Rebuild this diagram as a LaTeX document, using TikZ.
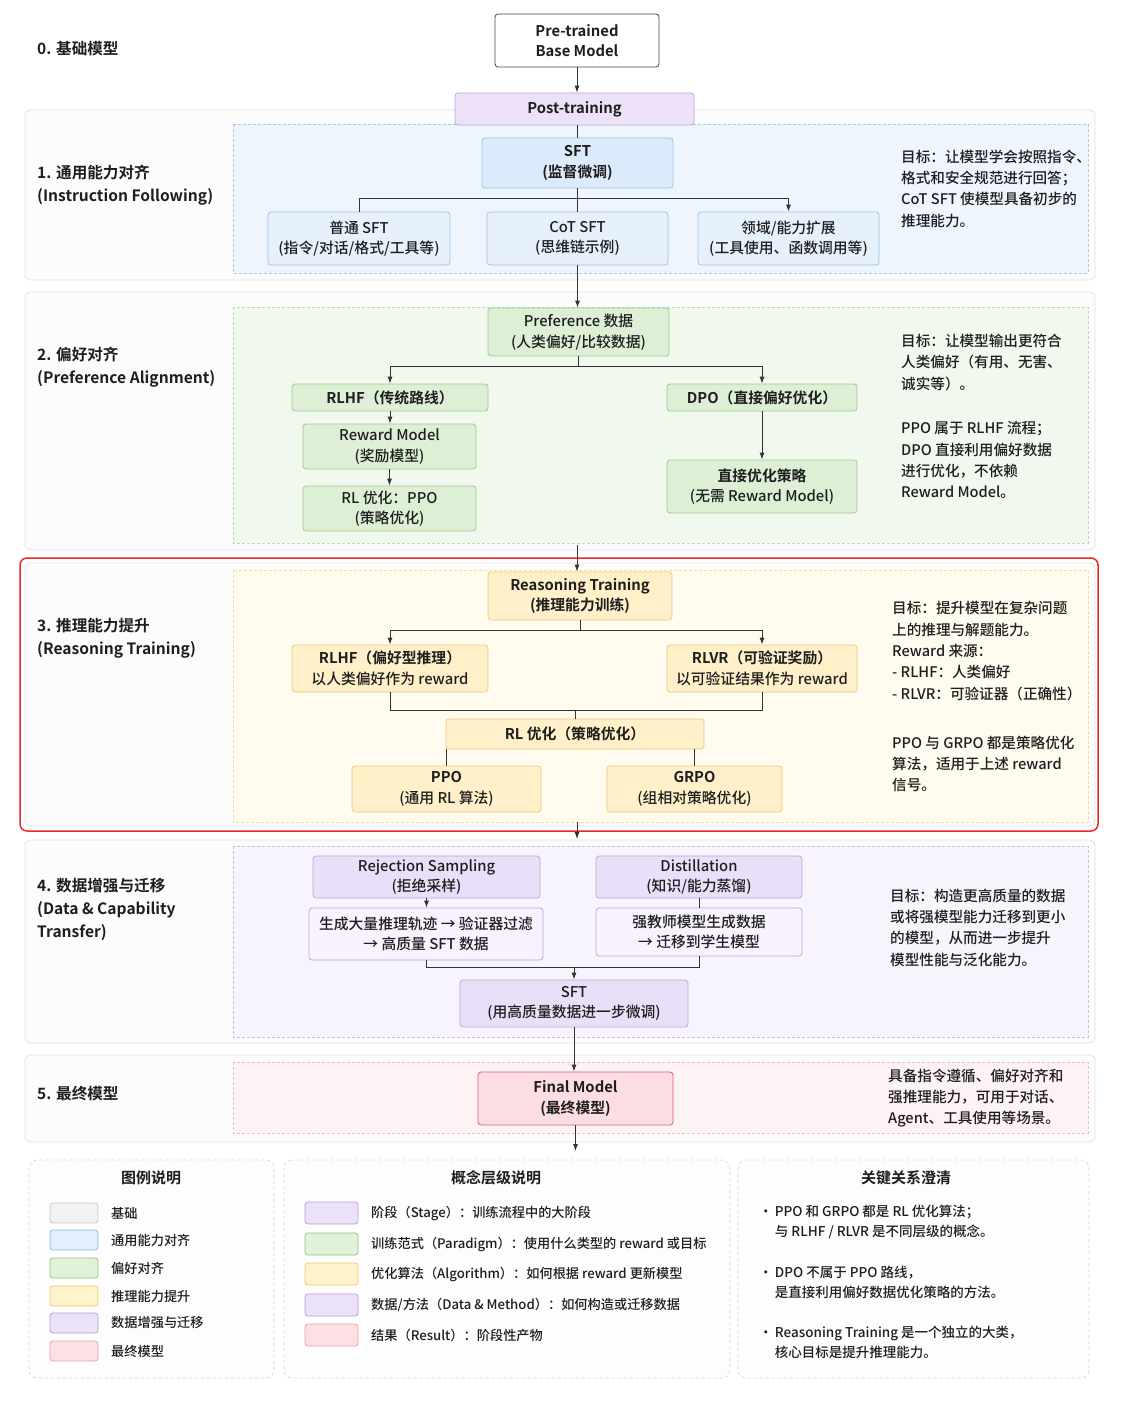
\documentclass[tikz,border=0pt]{standalone}
\usepackage{fontspec}
\setmainfont{Noto Sans CJK SC}[UprightFont=* Medium, BoldFont=* Bold]
\usetikzlibrary{arrows.meta,calc}
\definecolor{txt}{HTML}{1E1E1E}
\definecolor{lineclr}{HTML}{333333}
\definecolor{panelbd}{HTML}{E2E2E2}
\definecolor{panelbg}{HTML}{FCFCFC}
\definecolor{redframe}{HTML}{E42A2A}
% blue
\definecolor{bluein}{HTML}{EEF5FD}
\definecolor{bluedash}{HTML}{A9C9EA}
\definecolor{bluemain}{HTML}{DCEBFB}
\definecolor{bluesub}{HTML}{E7F1FC}
\definecolor{bluebd}{HTML}{9CC2E8}
% green
\definecolor{greenin}{HTML}{F1F8EE}
\definecolor{greendash}{HTML}{B9DBAE}
\definecolor{greenbox}{HTML}{DDF0D6}
\definecolor{greenbd}{HTML}{9FCB91}
% yellow
\definecolor{yellowin}{HTML}{FFFBEE}
\definecolor{yellowdash}{HTML}{F1DD9E}
\definecolor{yellowbox}{HTML}{FFF0C9}
\definecolor{yellowbd}{HTML}{EBCB82}
% purple
\definecolor{purplein}{HTML}{F8F4FD}
\definecolor{purpledash}{HTML}{CDBBE6}
\definecolor{purplebox}{HTML}{EADFF8}
\definecolor{purplesub}{HTML}{F7F2FD}
\definecolor{purplebd}{HTML}{BCA5DD}
\definecolor{postfill}{HTML}{EDE1F8}
% pink
\definecolor{pinkin}{HTML}{FDF3F5}
\definecolor{pinkdash}{HTML}{F1BCC4}
\definecolor{pinkbox}{HTML}{FBDDE2}
\definecolor{pinkbd}{HTML}{D9606C}
% legend swatches
\definecolor{swgrayf}{HTML}{F2F2F2}
\definecolor{swgrayd}{HTML}{C8C8C8}
\definecolor{swbluef}{HTML}{E3EFFC}
\definecolor{swblued}{HTML}{8FB8E0}
\definecolor{swgreenf}{HTML}{E0F2D8}
\definecolor{swgreend}{HTML}{93C783}
\definecolor{swyellowf}{HTML}{FFF3CC}
\definecolor{swyellowd}{HTML}{F0C870}
\definecolor{swpurplef}{HTML}{ECE2F8}
\definecolor{swpurpled}{HTML}{B8A0D8}
\definecolor{swpinkf}{HTML}{FDE0E4}
\definecolor{swpinkd}{HTML}{E8A4A0}
\definecolor{legbd}{HTML}{D6D6D6}
\definecolor{legbg}{HTML}{FDFDFD}

\tikzset{
  box/.style={draw, rounded corners=3pt, align=center, inner sep=0pt, line width=0.8pt,
    text=txt, font=\fontsize{14.8}{20.5}\selectfont},
  boldbox/.style={font=\bfseries\fontsize{14.8}{20.5}\selectfont},
  bxbase/.style={box, fill=white, draw=lineclr!90},
  bxpost/.style={box, fill=postfill, draw=purplebd},
  bxbluemain/.style={box, fill=bluemain, draw=bluebd},
  bxbluesub/.style={box, fill=bluesub, draw=bluebd},
  bxgreen/.style={box, fill=greenbox, draw=greenbd},
  bxyellow/.style={box, fill=yellowbox, draw=yellowbd},
  bxpurple/.style={box, fill=purplebox, draw=purplebd},
  bxpurplesub/.style={box, fill=purplesub, draw=purplebd},
  bxpink/.style={box, fill=pinkbox, draw=pinkbd},
  ln/.style={draw=lineclr, line width=0.9pt},
  arr/.style={ln, -{Latex[length=7pt,width=5pt]}},
  panel/.style={draw=panelbd, fill=panelbg, rounded corners=5pt, line width=0.8pt},
  innerpanel/.style={dash pattern=on 3pt off 2pt, line width=0.7pt},
  note/.style={anchor=west, align=left, inner sep=0pt, text=txt,
    font=\fontsize{14.6}{21.3}\selectfont},
  seclabel/.style={anchor=west, align=left, inner sep=0pt, text=txt,
    font=\bfseries\fontsize{15.6}{23}\selectfont},
  legpanel/.style={draw=legbd, fill=legbg, dashed, rounded corners=8pt, line width=0.7pt},
  legtitle/.style={inner sep=0pt, text=txt, font=\bfseries\fontsize{15}{18}\selectfont},
  legtext/.style={anchor=west, inner sep=0pt, text=txt, font=\fontsize{13.2}{18}\selectfont},
  legtext2/.style={anchor=west, align=left, inner sep=0pt, text=txt, font=\fontsize{13.5}{20}\selectfont},
  swatch/.style={rounded corners=3pt, line width=0.8pt},
}

\begin{document}
\begin{tikzpicture}[x=1pt,y=-1pt]
\useasboundingbox[fill=white] (0,0) rectangle (1122,1402);

% ---------- panels ----------
\draw[panel] (25,110) rectangle (1095,280);
\draw[innerpanel, fill=bluein, draw=bluedash] (233,124) rectangle (1088,273);

\draw[panel] (25,292) rectangle (1095,550);
\draw[innerpanel, fill=greenin, draw=greendash] (233,307) rectangle (1088,543);

\draw[panel] (25,563) rectangle (1095,826);
\draw[innerpanel, fill=yellowin, draw=yellowdash] (233,570) rectangle (1088,822);
\draw[draw=redframe, line width=1.5pt, rounded corners=7pt] (20,558) rectangle (1098,831);

\draw[panel] (25,840) rectangle (1095,1043);
\draw[innerpanel, fill=purplein, draw=purpledash] (233,846) rectangle (1088,1037);

\draw[panel] (25,1055) rectangle (1095,1142);
\draw[innerpanel, fill=pinkin, draw=pinkdash] (233,1062) rectangle (1088,1133);

% ---------- section labels ----------
\node[seclabel] (l0) at (37,49) {0. 基础模型};
\node[seclabel] (l1) at (37,185.5) {1. 通用能力对齐\\(Instruction Following)};
\node[seclabel] (l2) at (37,367.5) {2. 偏好对齐\\(Preference Alignment)};
\node[seclabel] (l3) at (37,638.5) {3. 推理能力提升\\(Reasoning Training)};
\node[seclabel] (l4) at (37,909.5) {4. 数据增强与迁移\\(Data \& Capability\\Transfer)};
\node[seclabel] (l5) at (37,1094) {5. 最终模型};

% ---------- nodes ----------
\node[bxbase, boldbox, minimum width=164pt, minimum height=53pt] (base) at (577,40.5) {Pre-trained\\Base Model};
\node[bxpost, boldbox, minimum width=239pt, minimum height=32pt] (post) at (574.5,109) {Post-training};

% section 1
\node[bxbluemain, boldbox, minimum width=191pt, minimum height=50pt] (sft1) at (577.5,163) {SFT\\(监督微调)};
\node[bxbluesub, minimum width=182pt, minimum height=53pt] (gen) at (359,238.5) {普通 SFT\\(指令/对话/格式/工具等)};
\node[bxbluesub, minimum width=181pt, minimum height=53pt] (cot) at (577.5,238.5) {CoT SFT\\(思维链示例)};
\node[bxbluesub, minimum width=181pt, minimum height=53pt] (dom) at (788.5,238.5) {领域/能力扩展\\(工具使用、函数调用等)};

% section 2
\node[bxgreen, minimum width=181pt, minimum height=48pt] (pref) at (578.5,332) {Preference 数据\\(人类偏好/比较数据)};
\node[bxgreen, boldbox, minimum width=196pt, minimum height=27pt] (rlhf1) at (390,397.5) {RLHF（传统路线）};
\node[bxgreen, boldbox, minimum width=190pt, minimum height=27pt] (dpo) at (762,397.5) {DPO（直接偏好优化）};
\node[bxgreen, minimum width=173pt, minimum height=45pt] (rm) at (389.5,446.5) {Reward Model\\(奖励模型)};
\node[bxgreen, minimum width=173pt, minimum height=45pt] (ppo1) at (389.5,508.5) {RL 优化：PPO\\(策略优化)};
\node[bxgreen, minimum width=190pt, minimum height=53pt] (direct) at (762,486.5) {\textbf{直接优化策略}\\(无需 Reward Model)};

% section 3
\node[bxyellow, boldbox, minimum width=184pt, minimum height=48pt] (reason) at (580,596) {Reasoning Training\\(推理能力训练)};
\node[bxyellow, minimum width=196pt, minimum height=47pt] (rlhf2) at (390,668.5) {\textbf{RLHF（偏好型推理）}\\以人类偏好作为 reward};
\node[bxyellow, minimum width=190pt, minimum height=47pt] (rlvr) at (762,668.5) {\textbf{RLVR（可验证奖励）}\\以可验证结果作为 reward};
\node[bxyellow, boldbox, minimum width=258pt, minimum height=30pt] (rlopt) at (575,734) {RL 优化（策略优化）};
\node[bxyellow, minimum width=189pt, minimum height=46pt] (ppo2) at (446.5,789) {\textbf{PPO}\\(通用 RL 算法)};
\node[bxyellow, minimum width=175pt, minimum height=46pt] (grpo) at (694.5,789) {\textbf{GRPO}\\(组相对策略优化)};

% section 4
\node[bxpurple, minimum width=227pt, minimum height=42pt] (rej) at (426.5,877) {Rejection Sampling\\(拒绝采样)};
\node[bxpurplesub, minimum width=234pt, minimum height=52pt] (rejtxt) at (426,934) {生成大量推理轨迹 → 验证器过滤\\→ 高质量 SFT 数据};
\node[bxpurple, minimum width=206pt, minimum height=42pt] (dist) at (699,877) {Distillation\\(知识/能力蒸馏)};
\node[bxpurplesub, minimum width=206pt, minimum height=48pt] (disttxt) at (699,932) {强教师模型生成数据\\→ 迁移到学生模型};
\node[bxpurple, minimum width=228pt, minimum height=47pt] (sft4) at (574,1003.5) {SFT\\(用高质量数据进一步微调)};

% section 5
\node[bxpink, boldbox, minimum width=195pt, minimum height=53pt] (final) at (575.5,1098.5) {Final Model\\(最终模型)};

% ---------- connectors ----------
\draw[arr] (base.south) -- (base.south |- post.north);
\coordinate (postout) at (post.south -| base.south);
\draw[ln] (postout) -- (postout |- sft1.north);

\draw[ln] (sft1.south) -- ++(0,10) coordinate (b1);
\draw[ln] (b1) -| (gen.north);
\draw[ln] (b1) -- (cot.north);
\draw[arr] (b1) -| (dom.north);

\draw[arr] (cot.south) -- (cot.south |- pref.north);

\draw[ln] (pref.south) -- ++(0,10) coordinate (b2);
\draw[arr] (b2) -| (rlhf1.north);
\draw[arr] (b2) -| (dpo.north);
\draw[arr] (rlhf1.south) -- (rlhf1.south |- rm.north);
\draw[arr] (rm.south) -- (rm.south |- ppo1.north);
\draw[arr] (dpo.south) -- (dpo.south |- direct.north);

\coordinate (s2out) at (577,545);
\draw[arr] (s2out) -- (s2out |- reason.north);

\draw[ln] (reason.south) -- ++(0,10) coordinate (b3);
\draw[arr] (b3) -| (rlhf2.north);
\draw[arr] (b3) -| (rlvr.north);
\draw[ln] (rlhf2.south) -- ++(0,18) coordinate (m3) -| (rlvr.south);
\draw[ln] (m3 -| rlopt.north) -- (rlopt.north);
\draw[ln] (rlopt.south -| ppo2.north) -- (ppo2.north);
\draw[ln] (rlopt.south -| grpo.north) -- (grpo.north);

\coordinate (s3out) at (577,822);
\coordinate (s4in) at (577,839);
\draw[arr] (s3out) -- (s4in);

\draw[arr] (rej.south) -- (rej.south |- rejtxt.north);
\draw[ln] (dist.south) -- (dist.south |- disttxt.north);
\draw[ln] (rejtxt.south) -- ++(0,7) coordinate (m4) -| (disttxt.south);
\draw[arr] (m4 -| sft4.north) -- (sft4.north);

\draw[arr] (sft4.south) -- (sft4.south |- final.north);
\coordinate (fout) at (575.5,1151);
\draw[arr] (final.south) -- (fout);

% ---------- notes ----------
\node[note] (n1) at (901,188.5) {目标：让模型学会按照指令、\\格式和安全规范进行回答；\\CoT SFT 使模型具备初步的\\推理能力。};
\node[note] (n2a) at (901,362.5) {目标：让模型输出更符合\\人类偏好（有用、无害、\\诚实等）。};
\node[note] (n2b) at (901,460) {PPO 属于 RLHF 流程；\\DPO 直接利用偏好数据\\进行优化，不依赖\\Reward Model。};
\node[note] (n3a) at (892,651) {目标：提升模型在复杂问题\\上的推理与解题能力。\\Reward 来源：\\- RLHF：人类偏好\\- RLVR：可验证器（正确性）};
\node[note] (n3b) at (892,764) {PPO 与 GRPO 都是策略优化\\算法，适用于上述 reward\\信号。};
\node[note] (n4) at (890,927.5) {目标：构造更高质量的数据\\或将强模型能力迁移到更小\\的模型，从而进一步提升\\模型性能与泛化能力。};
\node[note] (n5) at (888,1098) {具备指令遵循、偏好对齐和\\强推理能力，可用于对话、\\Agent、工具使用等场景。};

% ---------- legends ----------
\draw[legpanel] (29,1160) rectangle (274,1378);
\draw[legpanel] (284,1160) rectangle (730,1378);
\draw[legpanel] (738,1160) rectangle (1089,1378);

\node[legtitle] (lt1) at (151,1178) {图例说明};
\draw[swatch, fill=swgrayf, draw=swgrayd] (50,1203) rectangle (98,1223);
\draw[swatch, fill=swbluef, draw=swblued] (50,1230) rectangle (98,1250);
\draw[swatch, fill=swgreenf, draw=swgreend] (50,1258) rectangle (98,1278);
\draw[swatch, fill=swyellowf, draw=swyellowd] (50,1286) rectangle (98,1306);
\draw[swatch, fill=swpurplef, draw=swpurpled] (50,1313) rectangle (98,1333);
\draw[swatch, fill=swpinkf, draw=swpinkd] (50,1341) rectangle (98,1361);
\node[legtext] (lg1) at (111,1213) {基础};
\node[legtext] (lg2) at (111,1240) {通用能力对齐};
\node[legtext] (lg3) at (111,1268) {偏好对齐};
\node[legtext] (lg4) at (111,1296) {推理能力提升};
\node[legtext] (lg5) at (111,1323) {数据增强与迁移};
\node[legtext] (lg6) at (111,1351) {最终模型};

\node[legtitle] (lt2) at (496,1178) {概念层级说明};
\draw[swatch, fill=swpurplef, draw=swpurpled] (305,1202) rectangle (358,1224);
\draw[swatch, fill=swgreenf, draw=swgreend] (305,1233) rectangle (358,1255);
\draw[swatch, fill=swyellowf, draw=swyellowd] (305,1263) rectangle (358,1285);
\draw[swatch, fill=swpurplef, draw=swpurpled] (305,1294) rectangle (358,1316);
\draw[swatch, fill=swpinkf, draw=swpinkd] (305,1324) rectangle (358,1346);
\node[legtext] (lc1) at (371,1213) {阶段（Stage）：训练流程中的大阶段};
\node[legtext] (lc2) at (371,1244) {训练范式（Paradigm）：使用什么类型的 reward 或目标};
\node[legtext] (lc3) at (371,1274) {优化算法（Algorithm）：如何根据 reward 更新模型};
\node[legtext] (lc4) at (371,1305) {数据/方法（Data \& Method）：如何构造或迁移数据};
\node[legtext] (lc5) at (371,1335) {结果（Result）：阶段性产物};

\node[legtitle] (lt3) at (906,1178) {关键关系澄清};
\node[legtext2] (k1) at (759,1222) {•\,PPO 和 GRPO 都是 RL 优化算法；\\\hphantom{•\,}与 RLHF / RLVR 是不同层级的概念。};
\node[legtext2] (k2) at (759,1282) {•\,DPO 不属于 PPO 路线，\\\hphantom{•\,}是直接利用偏好数据优化策略的方法。};
\node[legtext2] (k3) at (759,1342.5) {•\,Reasoning Training 是一个独立的大类，\\\hphantom{•\,}核心目标是提升推理能力。};
\end{tikzpicture}
\end{document}
